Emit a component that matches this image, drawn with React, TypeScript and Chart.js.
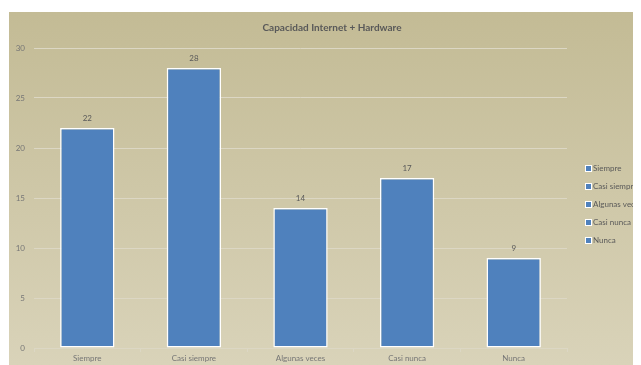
import React, { useEffect, useRef } from "react";
import { Chart, registerables } from "chart.js";

Chart.register(...registerables);

const chartTitle = "Capacidad Internet + Hardware";
const categories = ["Siempre", "Casi siempre", "Algunas veces", "Casi nunca", "Nunca"];
const values = [22, 28, 14, 17, 9];
const yMin = 0;
const yMax = 30;
const yStep = 5;

const FONT = "Lato, 'Open Sans', 'Liberation Sans', sans-serif";
const TITLE_COLOR = "#595959";
const TICK_COLOR = "#767676";
const LABEL_COLOR = "#595959";
const BAR = "#4f81bd";
const GRID = "#dcd7c4";

export default function App() {
  const ref = useRef<HTMLCanvasElement>(null);

  useEffect(() => {
    if (!ref.current) return;

    const bgPlugin = {
      id: "bgGradient",
      beforeDraw(chart: any) {
        const { ctx, width, height } = chart;
        const g = ctx.createLinearGradient(0, 0, 0, height);
        g.addColorStop(0, "#c3bb95");
        g.addColorStop(1, "#d9d3b9");
        ctx.save();
        ctx.fillStyle = g;
        ctx.fillRect(0, 0, width, height);
        ctx.restore();
      },
    };

    const titlePlugin = {
      id: "centeredTitle",
      afterDraw(chart: any) {
        const { ctx, width } = chart;
        ctx.save();
        ctx.font = `bold 10px ${FONT}`;
        ctx.fillStyle = TITLE_COLOR;
        ctx.textAlign = "center";
        ctx.textBaseline = "middle";
        ctx.fillText(chartTitle, width / 2 + 7, 16);
        ctx.restore();
      },
    };

    const valueLabels = {
      id: "valueLabels",
      afterDatasetsDraw(chart: any) {
        const { ctx } = chart;
        const meta = chart.getDatasetMeta(0);
        ctx.save();
        ctx.font = `8px ${FONT}`;
        ctx.fillStyle = LABEL_COLOR;
        ctx.textAlign = "center";
        ctx.textBaseline = "middle";
        meta.data.forEach((el: any, i: number) => {
          ctx.fillText(String(values[i]), el.x, el.y - 10);
        });
        ctx.restore();
      },
    };

    const catLegend = {
      id: "catLegend",
      afterDraw(chart: any) {
        const { ctx, chartArea } = chart;
        const x = chartArea.right + 18;
        const spacing = 18;
        const cy = (chartArea.top + chartArea.bottom) / 2 + 6.5;
        const y0 = cy - (spacing * (categories.length - 1)) / 2;
        ctx.save();
        ctx.font = `8px ${FONT}`;
        ctx.textBaseline = "middle";
        ctx.textAlign = "left";
        categories.forEach((c, i) => {
          const y = y0 + i * spacing;
          ctx.fillStyle = "#ffffff";
          ctx.fillRect(x, y - 3.5, 7, 7);
          ctx.fillStyle = BAR;
          ctx.fillRect(x + 1, y - 2.5, 5, 5);
          ctx.fillStyle = LABEL_COLOR;
          ctx.fillText(c, x + 8, y);
        });
        ctx.restore();
      },
    };

    const chart = new Chart(ref.current, {
      type: "bar",
      data: {
        labels: categories,
        datasets: [
          {
            label: chartTitle,
            data: values,
            backgroundColor: BAR,
            borderColor: "#ffffff",
            borderWidth: 1.5,
            borderSkipped: false,
            categoryPercentage: 1,
            barPercentage: 0.51,
          },
        ],
      },
      options: {
        responsive: false,
        animation: false,
        layout: { padding: { left: 0, right: 74, top: 36, bottom: 0 } },
        plugins: {
          legend: { display: false },
          tooltip: { enabled: false },
          title: { display: false },
        },
        scales: {
          x: {
            afterFit: (s: any) => {
              s.height = 17;
            },
            grid: {
              display: true,
              drawOnChartArea: false,
              drawTicks: true,
              tickLength: 4,
              color: GRID,
              offset: true,
            },
            border: { display: true, color: GRID, width: 1 },
            ticks: {
              color: TICK_COLOR,
              font: { family: FONT, size: 8 },
              padding: 2,
              maxRotation: 0,
            },
          },
          y: {
            min: yMin,
            max: yMax,
            afterFit: (s: any) => {
              s.width = 25;
            },
            grid: { color: GRID, drawTicks: false, lineWidth: 1 },
            border: { display: false },
            ticks: {
              stepSize: yStep,
              color: TICK_COLOR,
              font: { family: FONT, size: 8 },
              padding: 9,
            },
          },
        },
      },
      plugins: [bgPlugin, valueLabels, catLegend, titlePlugin],
    });

    return () => chart.destroy();
  }, []);

  return (
    <div style={{ margin: "4px 0 0 1px", width: 632, height: 353 }}>
      <canvas ref={ref} width={632} height={353} style={{ display: "block" }} />
    </div>
  );
}
